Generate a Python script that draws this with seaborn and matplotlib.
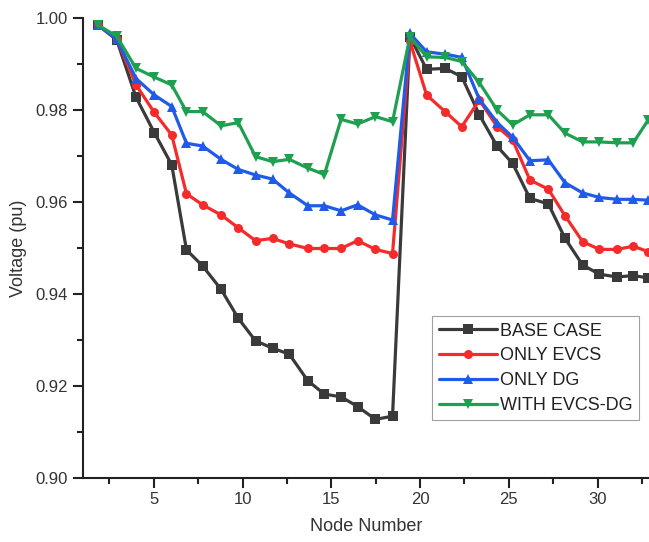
import numpy as np
import pandas as pd
import matplotlib
matplotlib.use("Agg")
import matplotlib.pyplot as plt
import seaborn as sns
from matplotlib.ticker import MultipleLocator

# Node positions (x axis)
node_pos = [1.87, 2.91, 4.00, 5.03, 6.01, 6.84, 7.75, 8.79, 9.76, 10.73, 11.69,
            12.63, 13.68, 14.61, 15.55, 16.48, 17.49, 18.45,
            19.43, 20.37, 21.41, 22.35, 23.34, 24.35, 25.22, 26.19, 27.23,
            28.17, 29.16, 30.10, 31.11, 32.01, 32.86]

base_case = [0.9985, 0.9953, 0.9828, 0.9751, 0.9681, 0.9496, 0.9461, 0.9410,
             0.9347, 0.9298, 0.9282, 0.9269, 0.9211, 0.9182, 0.9176, 0.9155,
             0.9127, 0.9134,
             0.9960, 0.9889, 0.9891, 0.9873, 0.9790, 0.9721, 0.9684, 0.9608,
             0.9596, 0.9521, 0.9463, 0.9443, 0.9437, 0.9440, 0.9435]

only_evcs = [0.9985, 0.9955, 0.9855, 0.9795, 0.9746, 0.9618, 0.9594, 0.9572,
             0.9544, 0.9516, 0.9521, 0.9509, 0.9499, 0.9499, 0.9499, 0.9516,
             0.9497, 0.9488,
             0.9950, 0.9833, 0.9797, 0.9764, 0.9822, 0.9764, 0.9735, 0.9648,
             0.9628, 0.9570, 0.9514, 0.9497, 0.9497, 0.9504, 0.9492]

only_dg = [0.9985, 0.9954, 0.9869, 0.9833, 0.9808, 0.9728, 0.9722, 0.9693,
           0.9671, 0.9659, 0.9650, 0.9620, 0.9592, 0.9592, 0.9581, 0.9594,
           0.9572, 0.9561,
           0.9967, 0.9927, 0.9922, 0.9915, 0.9824, 0.9773, 0.9741, 0.9690,
           0.9692, 0.9642, 0.9620, 0.9610, 0.9606, 0.9606, 0.9604]

with_evcs_dg = [0.9985, 0.9961, 0.9891, 0.9872, 0.9855, 0.9797, 0.9797, 0.9766,
                0.9773, 0.9699, 0.9688, 0.9693, 0.9674, 0.9660, 0.9780, 0.9770,
                0.9786, 0.9775,
                0.9960, 0.9916, 0.9915, 0.9906, 0.9860, 0.9800, 0.9768, 0.9790,
                0.9790, 0.9750, 0.9731, 0.9731, 0.9729, 0.9729, 0.9779]

series_names = ["BASE CASE", "ONLY EVCS", "ONLY DG", "WITH EVCS-DG"]
series_values = [base_case, only_evcs, only_dg, with_evcs_dg]
colors = ["#3a3a3a", "#f52a2a", "#1f5ae8", "#1fa050"]
markers = ["s", "o", "^", "v"]

df = pd.concat([pd.DataFrame({"Node": node_pos, "Voltage": v, "Case": n})
                for n, v in zip(series_names, series_values)], ignore_index=True)

sns.set_style("ticks")
plt.rcParams["font.family"] = ["Liberation Sans", "DejaVu Sans"]

fig = plt.figure(figsize=(6.49, 5.42), dpi=100)
ax = fig.add_axes([0.1276, 0.1186, 0.8724, 0.8476])

sns.lineplot(data=df, x="Node", y="Voltage", hue="Case", style="Case",
             palette=dict(zip(series_names, colors)),
             markers=dict(zip(series_names, markers)),
             dashes=False, linewidth=2.3, markersize=6.5,
             markeredgewidth=0, ax=ax, legend=True, sort=False)

ax.set_xlim(1, 32.9)
ax.set_ylim(0.90, 1.00)
ax.xaxis.set_major_locator(MultipleLocator(5))
ax.xaxis.set_minor_locator(MultipleLocator(2.5))
ax.yaxis.set_major_locator(MultipleLocator(0.02))
ax.yaxis.set_minor_locator(MultipleLocator(0.01))
ax.yaxis.set_major_formatter(matplotlib.ticker.FormatStrFormatter("%.2f"))

ax.spines["top"].set_visible(False)
ax.spines["right"].set_visible(False)
for s in ["left", "bottom"]:
    ax.spines[s].set_linewidth(1.5)
    ax.spines[s].set_color("#222222")
ax.tick_params(axis="both", which="major", direction="out", length=7, width=1.5,
               labelsize=12, colors="#222222", labelcolor="#333333")
ax.tick_params(axis="both", which="minor", direction="out", length=4, width=1.5,
               colors="#222222")

ax.set_xlabel("Node Number", fontsize=13, color="#333333", labelpad=8)
ax.set_ylabel("Voltage (pu)", fontsize=13, color="#333333", labelpad=6)

leg = ax.legend(loc="upper left", bbox_to_anchor=(0.6175, 0.3513), fontsize=13,
                frameon=True, fancybox=False, edgecolor="#888888",
                borderpad=0.35, labelspacing=0.43, handlelength=3.2,
                handletextpad=0.2, borderaxespad=0)
leg.get_frame().set_linewidth(0.8)
for t in leg.get_texts():
    t.set_color("#222222")

fig.savefig("out.png", dpi=100)
